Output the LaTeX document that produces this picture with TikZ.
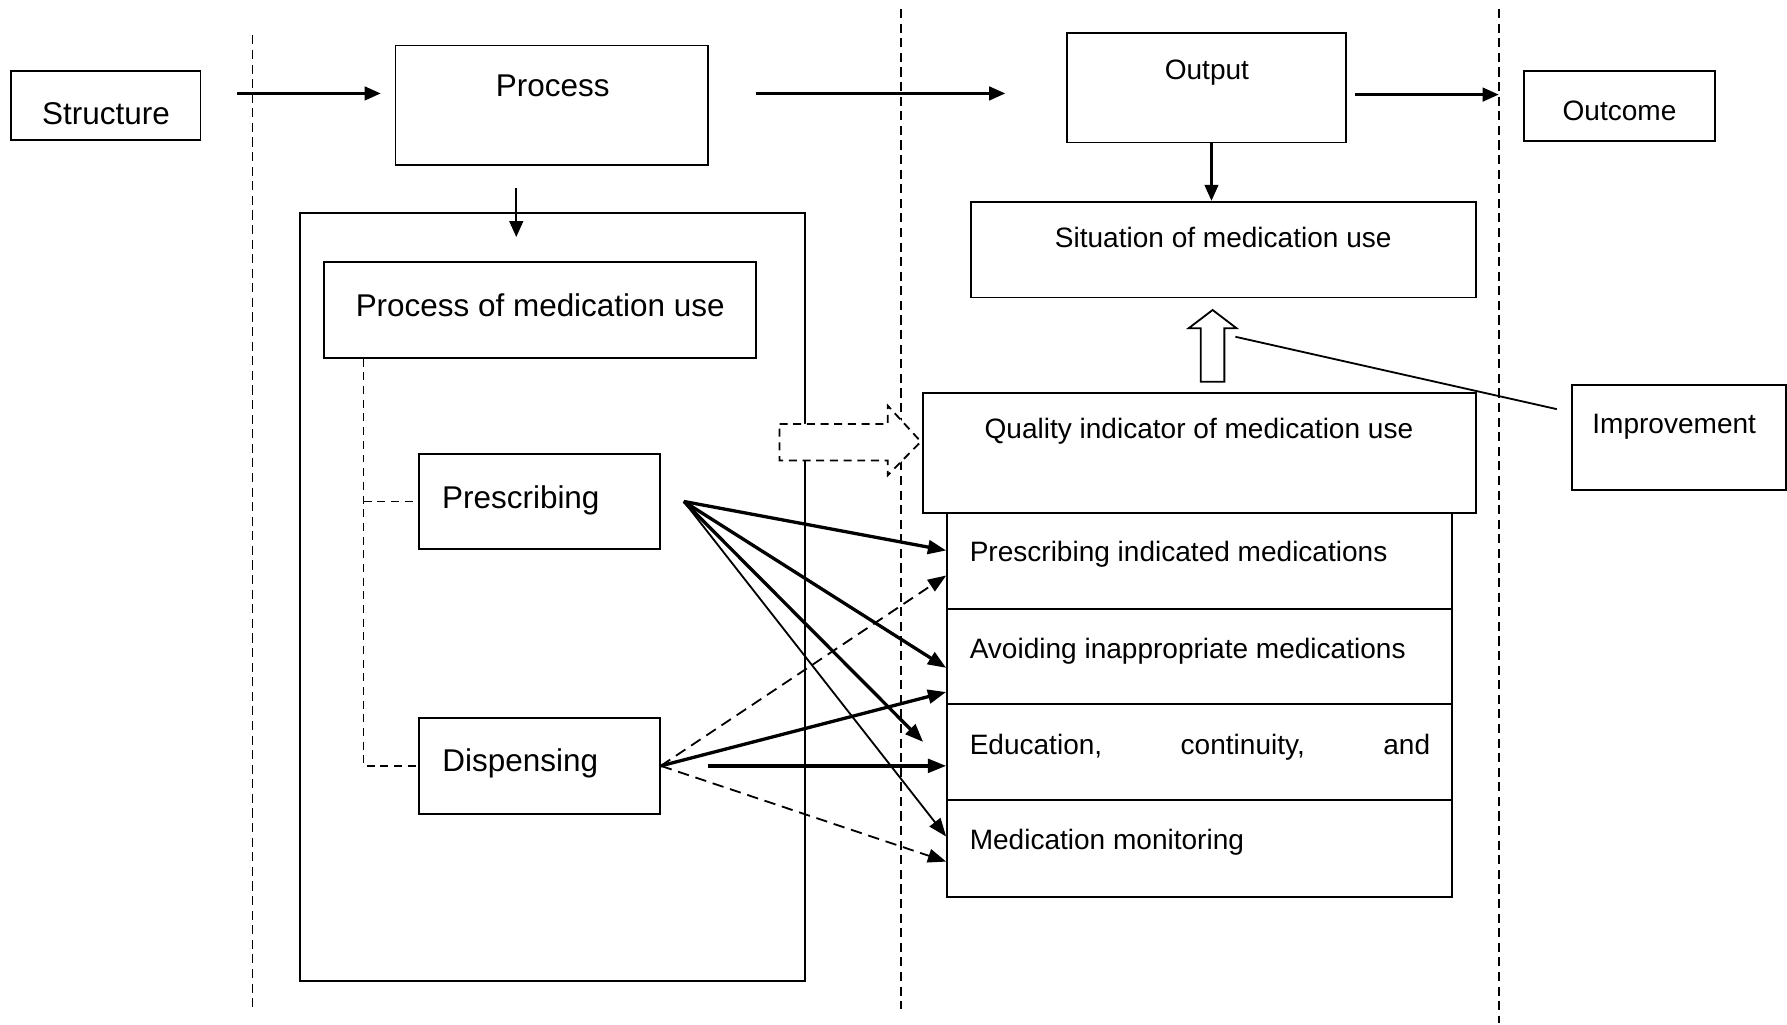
\documentclass[tikz,border=0pt]{standalone}
\usepackage{fontspec}
\setmainfont{Liberation Sans}
\usetikzlibrary{arrows.meta,fit}
\begin{document}
\begin{tikzpicture}[x=0.5pt,y=-0.5pt,
  box/.style={draw,line width=0.8pt,inner sep=0pt},
  big/.style={font=\fontsize{13.8}{16}\selectfont,inner sep=0pt},
  sml/.style={font=\fontsize{12.3}{14}\selectfont,inner sep=0pt},
  vdash/.style={line width=0.75pt,dash pattern=on 4pt off 2.4pt},
  tree/.style={line width=0.75pt,dash pattern=on 3.5pt off 2.5pt},
  toparrow/.style={line width=1pt,-{Triangle[length=7pt,width=6pt]}},
  thickarrow/.style={line width=1.45pt,-{Triangle[length=8pt,width=6pt]}},
  thinarrow/.style={line width=0.8pt,-{Triangle[length=8pt,width=6pt]}},
  dasharrow/.style={line width=0.8pt,dash pattern=on 5pt off 3pt,-{Triangle[length=8pt,width=6pt]}},
  blockarrow/.style={draw,line width=0.8pt,fill=white},
]
\useasboundingbox (0,0) rectangle (1568,899);

% dashed separators
\draw[vdash] (221.5,31) -- (221.5,885);
\draw[vdash] (790.5,8) -- (790.5,885);
\draw[vdash] (1315.5,8) -- (1315.5,898);

% boxes
\node[box,fit={(10,62)(176,123)}] (structure) {};
\node[box,fit={(347,40)(621,145)}] (process) {};
\node[box,fit={(936,29)(1181,125)}] (output) {};
\node[box,fit={(1337,62)(1505,124)}] (outcome) {};
\node[box,fit={(852,177)(1295,261)}] (situation) {};
\node[box,fit={(1379,338)(1567,430)}] (improvement) {};
\node[box,fit={(263,187)(706,861)}] (bigbox) {};
\node[box,fit={(284,230)(663,314)}] (pmu) {};
\node[box,fit={(368,398)(579,482)}] (presc) {};
\node[box,fit={(368,630)(579,714)}] (disp) {};

% dashed block arrow
\draw[blockarrow,dash pattern=on 3.5pt off 2.5pt]
  (684,372) -- (779,372) -- (779,356) -- (808,387.5) -- (779,417) -- (779,404) -- (684,404) -- cycle;

\node[box,fill=white,fit={(810,345)(1295,450)}] (quality) {};
\node[box,fit={(831,450)(1274,534)}] (r1) {};
\node[box,fit={(831,534)(1274,618)}] (r2) {};
\node[box,fit={(831,618)(1274,702)}] (r3) {};
\node[box,fit={(831,702)(1274,787)}] (r4) {};

% hollow up arrow
\draw[blockarrow] (1053.6,335) -- (1053.6,288) -- (1043,288) -- (1064,272) -- (1085,288) -- (1074.3,288) -- (1074.3,335) -- cycle;

% texts
\node[big,anchor=base] (tstructure) at (93,109) {Structure};
\node[big,anchor=base] (tprocess) at (485,85) {Process};
\node[sml,anchor=base] (toutput) at (1059,69.6) {Output};
\node[sml,anchor=base] (toutcome) at (1421,105.5) {Outcome};
\node[sml,anchor=base] (tsit) at (1073.3,217.3) {Situation of medication use};
\node[big,anchor=base] (tpmu) at (474,278) {Process of medication use};
\node[big,anchor=base] (tpresc) at (457,446) {Prescribing};
\node[big,anchor=base] (tdisp) at (456.5,677) {Dispensing};
\node[sml,anchor=base] (tqual) at (1052,384.6) {Quality indicator of medication use};
\node[sml,anchor=base] (timp) at (1469,380.2) {Improvement};
\node[sml,anchor=base west] (tr1) at (850.5,493) {Prescribing indicated medications};
\node[sml,anchor=base west] (tr2) at (850.5,577.6) {Avoiding inappropriate medications};
\node[sml,anchor=base west] (tr3) at (850.5,661.6) {\hbox to 202pt{Education,\hfill continuity,\hfill and}};
\node[sml,anchor=base west] (tr4) at (850.5,745.2) {Medication monitoring};

% tree
\coordinate (tx) at (319,0);
\draw[tree] (tx |- pmu.south) -- (tx |- disp.west) -- (disp.west);
\draw[tree] (tx |- presc.west) -- (presc.west);

% top arrows
\coordinate (a1s) at (208,82);
\coordinate (a1e) at (334,82);
\coordinate (a2s) at (663,82);
\coordinate (a2e) at (882,82);
\coordinate (a3s) at (1189,83);
\coordinate (a3e) at (1315,83);
\coordinate (pd1) at (453,165);
\coordinate (pd2) at (453,208);
\coordinate (ox) at (1063,0);
\draw[toparrow] (a1s) -- (a1e);
\draw[toparrow] (a2s) -- (a2e);
\draw[toparrow] (a3s) -- (a3e);
\draw[toparrow] (pd1) -- (pd2);
\draw[toparrow] (ox |- output.south) -- (ox |- situation.north);

% improvement line
\coordinate (imp1) at (1084,295.5);
\coordinate (imp2) at (1366,359);
\draw[line width=0.8pt] (imp1) -- (imp2);

% process -> indicator arrows
\coordinate (ps) at (600,440);
\coordinate (e3) at (810,651);
\coordinate (ds2) at (621,672);
\draw[thickarrow] (ps) -- ([yshift=4.5pt]r1.west);
\draw[thickarrow] (ps) -- ([yshift=-5pt]r2.west);
\draw[thickarrow] (ps) -- (e3);
\draw[thinarrow] (ps) -- ([yshift=5.25pt]r4.west);
\draw[dasharrow] (disp.east) -- ([yshift=-6.5pt]r1.west);
\draw[thickarrow] (disp.east) -- ([yshift=5pt]r3.north west);
\draw[thickarrow] (ds2) -- ([yshift=-6pt]r3.west);
\draw[dasharrow] (disp.east) -- ([yshift=-5.75pt]r4.west);
\end{tikzpicture}
\end{document}
